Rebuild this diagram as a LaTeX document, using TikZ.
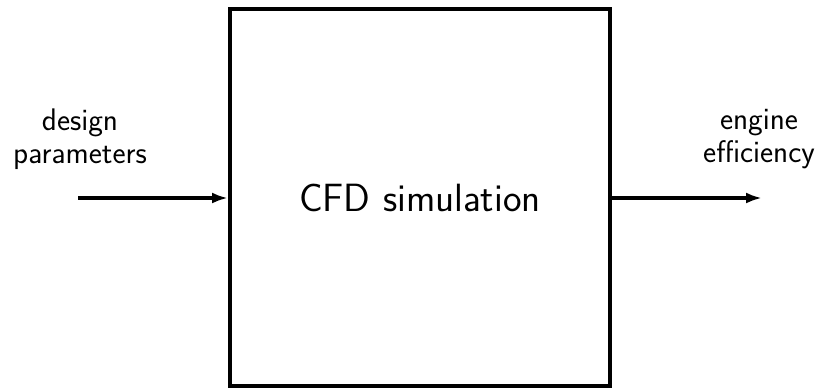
\documentclass[tikz,border=0pt]{standalone}
\usetikzlibrary{arrows.meta}
\begin{document}
\begin{tikzpicture}[x=0.5pt,y=-0.5pt,
  blk/.style={draw,line width=2pt,minimum width=190pt,minimum height=188.5pt,inner sep=0pt,font=\sffamily\fontsize{19.7}{23}\selectfont},
  lbl/.style={align=center,inner sep=0pt,font=\sffamily\fontsize{15.6}{16.5}\selectfont},
  flow/.style={line width=2pt,-{Latex[length=8pt,width=5.5pt]}}]
\useasboundingbox (0,0) rectangle (821,388);
\node[blk] (sim) at (420,197.5) {CFD simulation};
\coordinate (in) at (78,198);
\coordinate (out) at (762,198);
\node[lbl] (dp) at (80,139) {design\\parameters};
\node[lbl] (ee) at (759,139) {engine\\efficiency};
\draw[flow] (in) -- (in -| sim.west);
\draw[flow] (sim.east |- out) -- (out);
\end{tikzpicture}
\end{document}
